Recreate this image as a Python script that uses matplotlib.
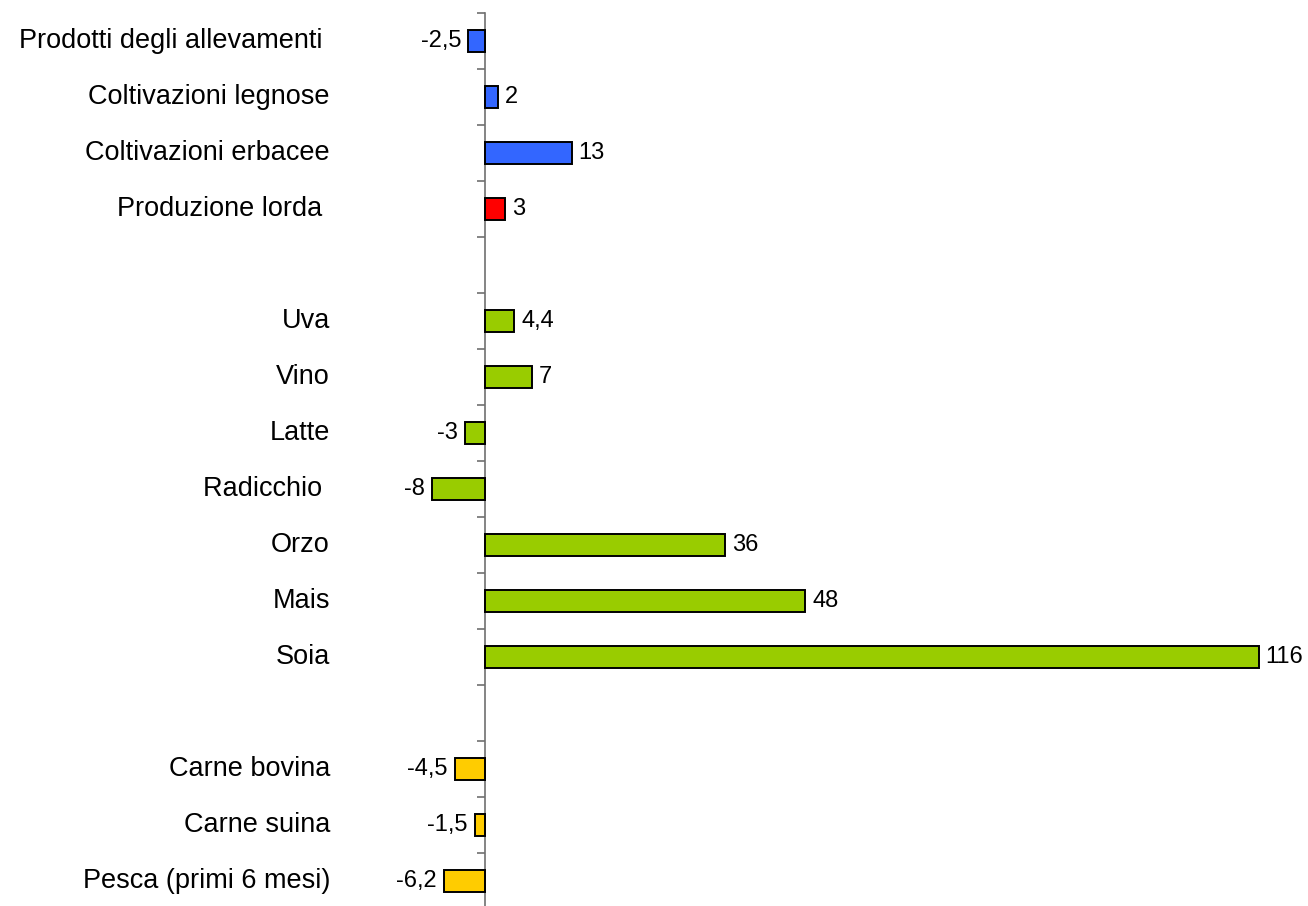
import matplotlib
matplotlib.use("Agg")
import matplotlib.pyplot as plt
import matplotlib.transforms as mtransforms

plt.rcParams['font.family'] = ['Liberation Sans', 'DejaVu Sans']

# one entry per row, top to bottom; None = empty spacer row
categories = [
    'Prodotti degli allevamenti ', 'Coltivazioni legnose', 'Coltivazioni erbacee', 'Produzione lorda ',
    None,
    'Uva', 'Vino', 'Latte', 'Radicchio ', 'Orzo', 'Mais', 'Soia',
    None,
    'Carne bovina', 'Carne suina', 'Pesca (primi 6 mesi)',
]
values = [
    -2.5, 2, 13, 3,
    None,
    4.4, 7, -3, -8, 36, 48, 116,
    None,
    -4.5, -1.5, -6.2,
]
groups = [
    'comparto', 'comparto', 'comparto', 'totale',
    None,
    'prodotto', 'prodotto', 'prodotto', 'prodotto', 'prodotto', 'prodotto', 'prodotto',
    None,
    'zootecnia', 'zootecnia', 'zootecnia',
]
group_colors = {'comparto': '#3366FF', 'totale': '#FF0000',
                'prodotto': '#99CC00', 'zootecnia': '#FFCC00'}

W, H = 1308, 906
fig = plt.figure(figsize=(W / 100, H / 100), dpi=100)

px_per_unit = 6.67
x0_px = 485
top_px, bot_px = 13, 909
ax = fig.add_axes([0, 1 - bot_px / H, 1, (bot_px - top_px) / H])
ax.set_xlim(-x0_px / px_per_unit, (W - x0_px) / px_per_unit)
n = len(categories)
ax.set_ylim(n - 0.5, -0.5)

for i, (cat, val, grp) in enumerate(zip(categories, values, groups)):
    if cat is None:
        continue
    ax.barh(i, val, height=0.41, color=group_colors[grp], edgecolor='black',
            linewidth=1.4, zorder=3)
    lab = f'{val:g}'.replace('.', ',')
    off = 7 / px_per_unit
    if val >= 0:
        ax.text(val + off, i, lab, ha='left', va='center', fontsize=17)
    else:
        ax.text(val - off, i, lab, ha='right', va='center', fontsize=17)

# category labels, right aligned at a fixed position
trans = mtransforms.blended_transform_factory(fig.transFigure, ax.transData)
for i, cat in enumerate(categories):
    if cat is None:
        continue
    ax.text(330 / W, i, cat, transform=trans, ha='right', va='center', fontsize=19.5)

for s in ['top', 'right', 'bottom']:
    ax.spines[s].set_visible(False)
ax.spines['left'].set_position(('data', 0))
ax.spines['left'].set_color('#707070')
ax.spines['left'].set_linewidth(1.2)
ax.set_yticks([k - 0.5 for k in range(n + 1)])
ax.set_yticklabels([])
ax.tick_params(axis='y', direction='out', length=6, width=1.2, color='#707070')
ax.set_xticks([])

fig.savefig('out.png', dpi=100)
